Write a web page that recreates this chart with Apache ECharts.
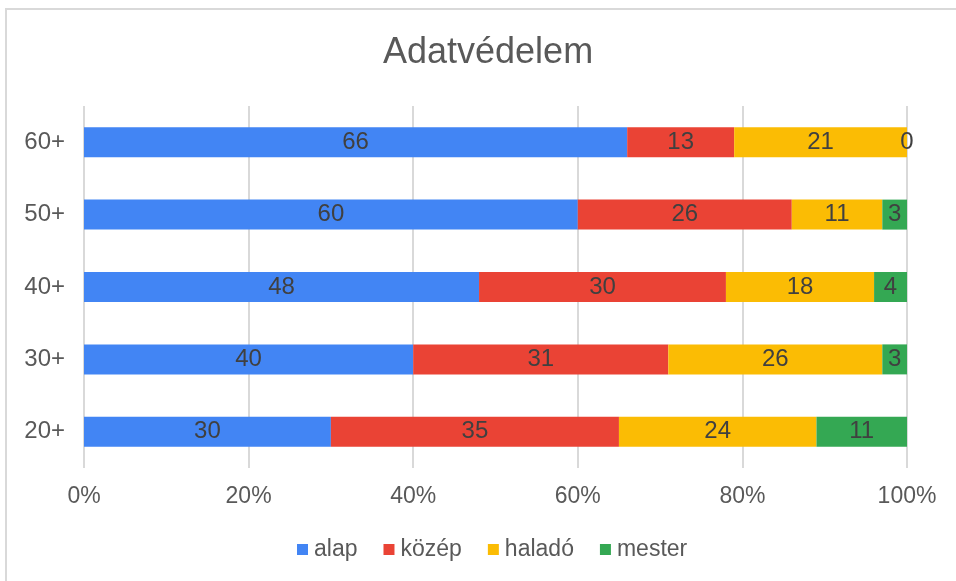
<!DOCTYPE html>
<html>
<head>
<meta charset="utf-8">
<script src="https://cdn.jsdelivr.net/npm/echarts@6/dist/echarts.min.js"></script>
<style>
	html, body { margin: 0; padding: 0; background: #fff; }
	#chart { width: 956px; height: 581px; }
</style>
</head>
<body>
<div id="chart"></div>
<script>
var categories = ["20+", "30+", "40+", "50+", "60+"];
var alap = [30, 40, 48, 60, 66];
var kozep = [35, 31, 30, 26, 13];
var halado = [24, 26, 18, 11, 21];
var mester = [11, 3, 4, 3, 0];
var xTicks = [0, 20, 40, 60, 80, 100];

var seriesDefs = [
	{ name: "alap", data: alap, color: "#4285f4" },
	{ name: "közép", data: kozep, color: "#ea4335" },
	{ name: "haladó", data: halado, color: "#fbbc04" },
	{ name: "mester", data: mester, color: "#34a853" }
];

var font = "'Liberation Sans', Arial, sans-serif";
var chart = echarts.init(document.getElementById("chart"));

var option = {
	animation: false,
	textStyle: { fontFamily: font },
	graphic: [
		{
			type: "rect",
			shape: { x: 6, y: 9, width: 1000, height: 1000 },
			style: { fill: "none", stroke: "#d9d9d9", lineWidth: 2 },
			silent: true
		}
	],
	title: {
		text: "Adatvédelem",
		left: 378,
		top: 30,
		textStyle: { fontFamily: font, fontSize: 36, fontWeight: "normal", color: "#595959" }
	},
	legend: {
		bottom: 15,
		left: 292,
		icon: "rect",
		itemWidth: 11,
		itemHeight: 11,
		itemGap: 26,
		textStyle: { fontFamily: font, fontSize: 23, color: "#595959", padding: [0, 0, 0, 1] },
		data: seriesDefs.map(function (s) { return s.name; })
	},
	grid: { left: 84, right: 49, top: 106, bottom: 113, containLabel: false },
	xAxis: {
		type: "value",
		min: xTicks[0],
		max: xTicks[xTicks.length - 1],
		interval: xTicks[1] - xTicks[0],
		axisLine: { show: false },
		axisTick: { show: false },
		axisLabel: {
			formatter: "{value}%",
			fontSize: 23,
			color: "#595959",
			margin: 17,
			fontFamily: font
		},
		splitLine: { lineStyle: { color: "#d9d9d9", width: 2 } }
	},
	yAxis: {
		type: "category",
		data: categories,
		axisLine: { show: false },
		axisTick: { show: false },
		axisLabel: { fontSize: 24, color: "#595959", margin: 19, fontFamily: font },
		splitLine: { show: false }
	},
	series: seriesDefs.map(function (s) {
		return {
			name: s.name,
			type: "bar",
			stack: "total",
			barWidth: 30,
			data: s.data,
			itemStyle: { color: s.color },
			label: {
				show: true,
				position: "inside",
				fontSize: 24,
				color: "#404040",
				fontFamily: font
			}
		};
	})
};

chart.setOption(option);
</script>
</body>
</html>
